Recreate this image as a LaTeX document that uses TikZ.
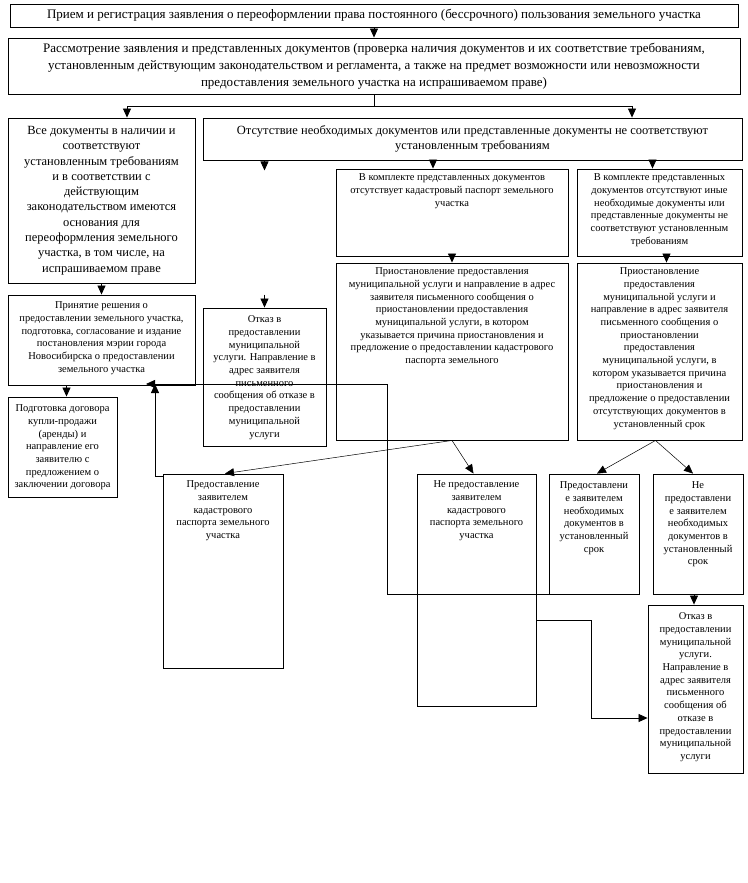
\documentclass[tikz,border=0pt]{standalone}
\usepackage{fontspec}
\setmainfont{Liberation Serif}
\usetikzlibrary{arrows.meta,fit,calc}
\begin{document}
\begin{tikzpicture}[x=1pt,y=-1pt,
 box/.style={draw, line width=0.9pt, inner sep=0pt},
 big/.style={font=\fontsize{12.5}{15.3}\selectfont, align=center, inner sep=0pt},
 wide/.style={font=\fontsize{13}{17}\selectfont, align=center, inner sep=0pt},
 small/.style={font=\fontsize{10.5}{12.7}\selectfont, align=center, inner sep=0pt, anchor=north},
 arr/.style={line width=0.8pt, -{Triangle[length=9pt,width=8pt]}},
 ln/.style={line width=0.8pt},
 thinarr/.style={line width=0.5pt, -{Triangle[length=9pt,width=8pt]}}]
\useasboundingbox (0,0) rectangle (747,883);
% boxes
\node[box, fit={(10,4) (738,27)}] (b1) {};
\node[box, fit={(8,38) (740,94)}] (b2) {};
\node[box, fit={(8,118) (195,283)}] (b3) {};
\node[box, fit={(203,118) (742,160)}] (b4) {};
\node[box, fit={(336,169) (568,256)}] (k1) {};
\node[box, fit={(577,169) (742,256)}] (k2) {};
\node[box, fit={(8,295) (195,385)}] (b5) {};
\node[box, fit={(203,308) (326,446)}] (m1) {};
\node[box, fit={(336,263) (568,440)}] (p1) {};
\node[box, fit={(577,263) (742,440)}] (p2) {};
\node[box, fit={(8,397) (117,497)}] (b6) {};
\node[box, fit={(163,474) (283,668)}] (q1) {};
\node[box, fit={(417,474) (536,706)}] (q2) {};
\node[box, fit={(549,474) (639,594)}] (r1) {};
\node[box, fit={(653,474) (743,594)}] (r2) {};
\node[box, fit={(648,605) (743,773)}] (o2) {};
% texts
\node[wide] (b1t) at (b1.center) {Прием и регистрация заявления о переоформлении права постоянного (бессрочного) пользования земельного участка};
\node[wide] (b2t) at (b2.center) {Рассмотрение заявления и представленных документов (проверка наличия документов и их соответствие требованиям,\\установленным действующим законодательством и регламента, а также на предмет возможности или невозможности\\предоставления земельного участка на испрашиваемом праве)};
\node[big] (b3t) at (b3.center) {Все документы в наличии и\\соответствуют\\установленным требованиям\\и в соответствии с\\действующим\\законодательством имеются\\основания для\\переоформления земельного\\участка, в том числе, на\\испрашиваемом праве};
\node[big] (b4t) at (b4.center) {Отсутствие необходимых документов или представленные документы не соответствуют\\установленным требованиям};
\node[small] (k1t) at ([yshift=-5pt]k1.north) {В комплекте представленных документов\\отсутствует кадастровый паспорт земельного\\участка};
\node[small] (k2t) at ([yshift=-5pt]k2.north) {В комплекте представленных\\документов отсутствуют иные\\необходимые документы или\\представленные документы не\\соответствуют установленным\\требованиям};
\node[small] (b5t) at ([yshift=-7pt]b5.north) {Принятие решения о\\предоставлении земельного участка,\\подготовка, согласование и издание\\постановления мэрии города\\Новосибирска о предоставлении\\земельного участка};
\node[small] (m1t) at ([yshift=-8pt]m1.north) {Отказ в\\предоставлении\\муниципальной\\услуги. Направление в\\адрес заявителя\\письменного\\сообщения об отказе в\\предоставлении\\муниципальной\\услуги};
\node[small] (p1t) at ([yshift=-5pt]p1.north) {Приостановление предоставления\\муниципальной услуги и направление в адрес\\заявителя письменного сообщения о\\приостановлении предоставления\\муниципальной услуги, в котором\\указывается причина приостановления и\\предложение о предоставлении кадастрового\\паспорта земельного};
\node[small] (p2t) at ([yshift=-5pt]p2.north) {Приостановление\\предоставления\\муниципальной услуги и\\направление в адрес заявителя\\письменного сообщения о\\приостановлении\\предоставления\\муниципальной услуги, в\\котором указывается причина\\приостановления и\\предложение о предоставлении\\отсутствующих документов в\\установленный срок};
\node[small] (b6t) at ([yshift=-8pt]b6.north) {Подготовка договора\\купли-продажи\\(аренды) и\\направление его\\заявителю с\\предложением о\\заключении договора};
\node[small] (q1t) at ([yshift=-7pt]q1.north) {Предоставление\\заявителем\\кадастрового\\паспорта земельного\\участка};
\node[small] (q2t) at ([yshift=-7pt]q2.north) {Не предоставление\\заявителем\\кадастрового\\паспорта земельного\\участка};
\node[small] (r1t) at ([yshift=-8pt]r1.north) {Предоставлени\\е заявителем\\необходимых\\документов в\\установленный\\срок};
\node[small] (r2t) at ([yshift=-8pt]r2.north) {Не\\предоставлени\\е заявителем\\необходимых\\документов в\\установленный\\срок};
\node[small] (o2t) at ([yshift=-8pt]o2.north) {Отказ в\\предоставлении\\муниципальной\\услуги.\\Направление в\\адрес заявителя\\письменного\\сообщения об\\отказе в\\предоставлении\\муниципальной\\услуги};
% connectors
\coordinate (j1) at (127,106);
\coordinate (j2) at (632,106);
\coordinate (c1) at (387,384);
\coordinate (t1) at (146,384);
\coordinate (t2) at (155,384);
\coordinate (c2) at (591,718);
\draw[arr] (b1.south) -- (b2.north);
\draw[ln] (b2.south) -- (b2.south |- j1);
\draw[arr] (b2.south |- j1) -- (j1) -- (j1 |- b3.north);
\draw[arr] (b2.south |- j1) -- (j2) -- (j2 |- b4.north);
\draw[arr] (b3.south) -- (b5.north);
\draw[arr] ([xshift=4pt]b6.north |- b5.south) -- ([xshift=4pt]b6.north);
\draw[arr] (b4.south -| m1.north) -- ++(0,10);
\draw[arr] ([yshift=13pt]m1.north) -- (m1.north);
\draw[arr] ([xshift=-19pt]k1.north |- b4.south) -- ([xshift=-19pt]k1.north);
\draw[arr] ([xshift=-7pt]k2.north |- b4.south) -- ([xshift=-7pt]k2.north);
\draw[arr] (k1.south) -- (p1.north);
\draw[arr] ([xshift=7pt]k2.south) -- ([xshift=7pt]p2.north);
\draw[thinarr] (p1.south) -- ([xshift=2pt]q1.north);
\draw[thinarr] (p1.south) -- ([xshift=-3pt]q2.north);
\draw[thinarr] ([xshift=-4pt]p2.south) -- ([xshift=3pt]r1.north);
\draw[thinarr] ([xshift=-4pt]p2.south) -- ([xshift=-5pt]r2.north);
\draw[arr] ([xshift=-4pt]r2.south) -- ([xshift=-4pt]r2.south |- o2.north);
\draw[arr] (r1.south west) -| (c1) -- (t1);
\draw[arr] ([yshift=-3pt]q1.north west) -| (t2);
\draw[arr] ([yshift=-30pt]q2.east) -| (c2) -- (c2 -| o2.west);
\end{tikzpicture}
\end{document}
